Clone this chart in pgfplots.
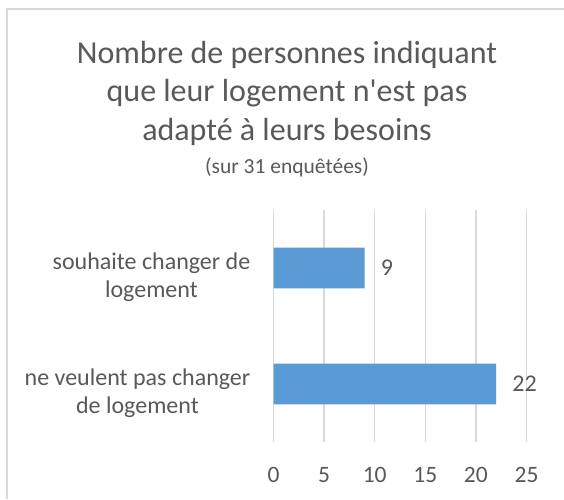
\documentclass[border=0pt]{standalone}
\usepackage{fontspec}
\setmainfont{Carlito}
\usepackage{pgfplots}
\pgfplotsset{compat=1.18}
\definecolor{txt}{HTML}{595959}
\definecolor{barblue}{HTML}{5B9BD5}
\definecolor{gridc}{HTML}{D9D9D9}
\begin{document}
\begin{tikzpicture}
% page size = reference size, 1px = 1pt
\useasboundingbox[fill=white] (0,0) rectangle (564pt,-499pt);
\draw[gridc, line width=1.5pt] (6.75pt,-499pt) -- (6.75pt,-9pt) -- (564pt,-9pt);

% title
\node[anchor=base, text=txt, font=\fontsize{32}{38}\selectfont] at (287pt,-63pt) {Nombre de personnes indiquant};
\node[anchor=base, text=txt, font=\fontsize{32}{38}\selectfont] at (287pt,-101pt) {que leur logement n\textquotesingle est pas};
\node[anchor=base, text=txt, font=\fontsize{32}{38}\selectfont] at (287pt,-140pt) {adapté à leurs besoins};
\node[anchor=base, text=txt, font=\fontsize{21.5}{25}\selectfont] at (287pt,-173pt) {(sur 31 enquêtées)};

\begin{axis}[
  at={(273.5pt,-442pt)}, anchor=south west,
  scale only axis, width=253pt, height=232pt,
  xbar, bar width=40.6pt,
  xmin=0, xmax=25, ymin=-0.5, ymax=1.5,
  axis line style={draw=none},
  major tick length=0pt,
  xtick={0,5,...,25},
  xmajorgrids, grid style={gridc, line width=1.5pt},
  ytick={0,1},
  yticklabels={{ne veulent pas changer\\de logement},{souhaite changer de\\logement}},
  yticklabel style={align=center, anchor=east, text=txt, inner sep=0pt,
    font=\fontsize{24}{28}\selectfont, xshift=-23pt, yshift=-9pt},
  xticklabel style={text=txt, font=\fontsize{23.5}{28}\selectfont, inner sep=0pt, yshift=-25pt},
  /pgf/number format/assume math mode=true,
  nodes near coords,
  every node near coord/.append style={anchor=west, text=txt, inner sep=0pt,
    font=\fontsize{24}{28}\selectfont, xshift=16pt},
]
\addplot[fill=barblue, draw=none] coordinates {(22,0) (9,1)};
\end{axis}
\end{tikzpicture}
\end{document}
